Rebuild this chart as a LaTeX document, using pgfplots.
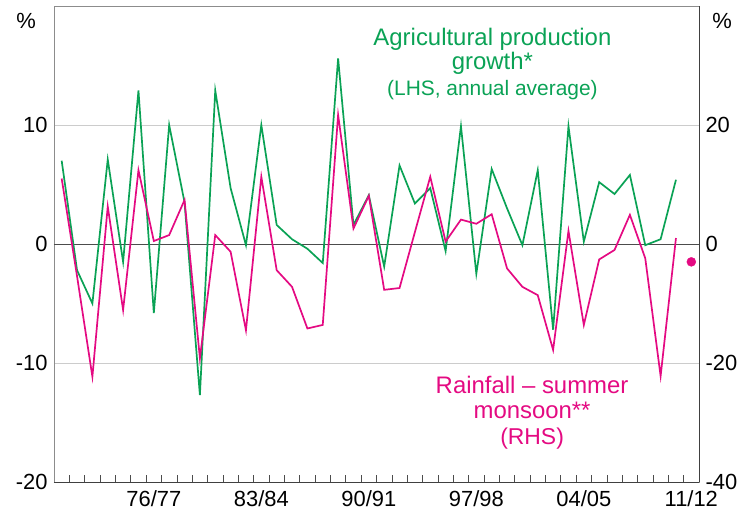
\documentclass[border=0pt]{standalone}
\usepackage{fontspec}
\setmainfont{Liberation Sans}
\usepackage{pgfplots}
\usepackage{pgfplotstable}
\pgfplotsset{compat=1.18}
\definecolor{agr}{RGB}{10,162,85}
\definecolor{rain}{RGB}{228,10,130}

\pgfplotstableread{
idx val
0 7.0
1 -2.2
2 -5.0
3 7.1
4 -1.5
5 12.9
6 -5.8
7 10.0
8 3.5
9 -12.7
10 12.9
11 4.7
12 -0.1
13 10.0
14 1.6
15 0.4
16 -0.4
17 -1.6
18 15.6
19 1.6
20 4.1
21 -1.9
22 6.6
23 3.4
24 4.7
25 -0.6
26 9.9
27 -2.5
28 6.3
29 3.0
30 -0.1
31 6.2
32 -7.2
33 9.9
34 0.2
35 5.2
36 4.2
37 5.8
38 -0.1
39 0.4
40 5.4
}\agrdata

\pgfplotstableread{
idx val
0 11.0
1 -5.4
2 -22.3
3 6.3
4 -11.1
5 12.4
6 0.5
7 1.5
8 7.4
9 -19.2
10 1.5
11 -1.3
12 -14.5
13 11.3
14 -4.4
15 -7.2
16 -14.2
17 -13.6
18 21.7
19 2.6
20 8.1
21 -7.7
22 -7.4
23 2.0
24 11.3
25 0.4
26 4.1
27 3.4
28 5.0
29 -4.1
30 -7.2
31 -8.6
32 -17.8
33 2.2
34 -13.6
35 -2.6
36 -1.0
37 4.9
38 -2.4
39 -22.2
40 1.0
}\raindata

\begin{document}
\begin{tikzpicture}
\pgfplotsset{
  common/.style={
    scale only axis, width=645bp, height=476bp,
    xmin=-0.5, xmax=41.5, clip=false,
    /pgf/number format/assume math mode=true,
    tick label style={font=\fontsize{22}{26}\selectfont},
  }
}
\begin{axis}[common, name=ax,
  ymin=-20, ymax=20,
  ytick={-20,-10,0,10},
  yticklabel style={xshift=-3bp},
  ymajorgrids, grid style={black!20, line width=0.8bp},
  ytick style={draw=none},
  axis line style={black!45, line width=0.8bp},
  xtick={0.5,1.5,...,40.5}, xticklabels={},
  xtick pos=left, tick align=inside, major tick length=7bp,
  xtick style={black!70, line width=0.7bp},
  extra x ticks={6,13,20,27,34,41},
  extra x tick labels={76/77,83/84,90/91,97/98,04/05,11/12},
  extra x tick style={major tick length=0pt, grid=none, xticklabel style={yshift=-5bp}},
]
\draw[black!70, line width=0.8bp] (axis cs:-0.5,0) -- (axis cs:41.5,0);
\addplot[agr, line width=1.7bp] table[x=idx, y=val] {\agrdata};
\node[agr, anchor=base, font=\fontsize{24}{28}\selectfont] at (axis cs:28.05,16.72) {Agricultural production};
\node[agr, anchor=base, font=\fontsize{24}{28}\selectfont] at (axis cs:28.05,14.68) {growth*};
\node[agr, anchor=base, font=\fontsize{21}{25}\selectfont] at (axis cs:28.05,12.52) {(LHS, annual average)};
\node[font=\fontsize{22}{26}\selectfont] at (rel axis cs:-0.0434,0.9685) {\%};
\node[font=\fontsize{22}{26}\selectfont] at (rel axis cs:1.0357,0.9685) {\%};
\end{axis}

\begin{axis}[common,
  ymin=-40, ymax=40,
  axis y line*=right, axis x line*=bottom,
  xtick=\empty,
  ytick={-40,-20,0,20},
  yticklabel style={xshift=3bp},
  ytick style={draw=none},
  axis line style={black!75, line width=0.8bp},
]
\addplot[rain, line width=1.7bp] table[x=idx, y=val] {\raindata};
\addplot[rain, only marks, mark=*, mark size=4.5bp] coordinates {(41,-3.0)};
\node[rain, anchor=base, font=\fontsize{24}{28}\selectfont] at (axis cs:30.63,-25.09) {Rainfall – summer};
\node[rain, anchor=base, font=\fontsize{24}{28}\selectfont] at (axis cs:30.63,-29.41) {monsoon**};
\node[rain, anchor=base, font=\fontsize{23}{27}\selectfont] at (axis cs:30.63,-33.78) {(RHS)};
\end{axis}

\pgfresetboundingbox
\path ([shift={(-54bp,-31bp)}]ax.south west) rectangle ([shift={(46bp,6bp)}]ax.north east);
\end{tikzpicture}
\end{document}
